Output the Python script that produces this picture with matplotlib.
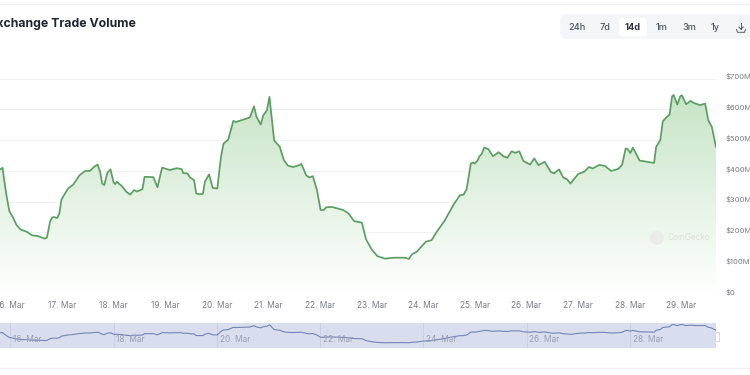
import numpy as np
import matplotlib
matplotlib.use('Agg')
import matplotlib.pyplot as plt
from matplotlib.colors import LinearSegmentedColormap
from matplotlib.patches import Polygon, FancyBboxPatch, Circle, Rectangle
from matplotlib.transforms import ScaledTranslation

plt.rcParams['font.family'] = ['Inter', 'DejaVu Sans']

# day of March, volume in $M
days = [15.80, 15.85, 15.89, 15.93, 15.98, 16.06, 16.12, 16.20, 16.32, 16.42, 16.54, 16.67, 16.71, 16.77, 16.81, 16.85,
        16.91, 16.95, 16.99, 17.06, 17.12, 17.22, 17.34, 17.45, 17.54, 17.62, 17.69, 17.74, 17.78, 17.82, 17.88, 17.94,
        18.00, 18.03, 18.06, 18.16, 18.25, 18.32, 18.40, 18.45, 18.56, 18.60, 18.77, 18.85, 18.94, 19.09, 19.22, 19.32,
        19.35, 19.43, 19.48, 19.56, 19.60, 19.64, 19.73, 19.77, 19.85, 19.92, 20.01, 20.08, 20.13, 20.22, 20.32, 20.37,
        20.51, 20.64, 20.72, 20.77, 20.85, 20.90, 20.97, 21.02, 21.11, 21.22, 21.30, 21.38, 21.48, 21.60, 21.64, 21.73,
        21.79, 21.86, 21.94, 22.01, 22.07, 22.12, 22.23, 22.45, 22.55, 22.66, 22.81, 22.89, 23.00, 23.11, 23.26, 23.42,
        23.65, 23.72, 23.78, 23.87, 24.05, 24.16, 24.26, 24.42, 24.58, 24.71, 24.78, 24.84, 24.92, 24.96, 24.99, 25.05,
        25.08, 25.13, 25.18, 25.26, 25.35, 25.46, 25.55, 25.63, 25.71, 25.78, 25.86, 25.94, 26.07, 26.15, 26.23, 26.35,
        26.47, 26.53, 26.63, 26.71, 26.79, 26.85, 27.00, 27.12, 27.21, 27.28, 27.41, 27.52, 27.64, 27.78, 27.85, 27.92,
        27.96, 28.01, 28.06, 28.19, 28.47, 28.51, 28.59, 28.64, 28.72, 28.77, 28.82, 28.85, 28.92, 28.98, 29.01, 29.09,
        29.18, 29.23, 29.36, 29.46, 29.52, 29.59, 29.67]
volume = [405, 410, 360, 316, 270, 246, 224, 210, 202, 191, 188, 180, 184, 235, 249, 250,
          247, 262, 307, 327, 343, 356, 386, 400, 400, 413, 421, 397, 359, 354, 394, 405,
          363, 357, 365, 351, 332, 323, 338, 333, 341, 381, 380, 347, 411, 403, 409, 406,
          393, 392, 379, 370, 327, 325, 325, 365, 389, 345, 343, 446, 489, 502, 563, 559,
          567, 574, 610, 576, 551, 581, 597, 641, 500, 478, 435, 417, 413, 419, 423, 386,
          379, 383, 338, 273, 273, 282, 283, 273, 262, 237, 232, 178, 145, 123, 115, 118,
          118, 114, 129, 137, 170, 175, 202, 240, 289, 321, 323, 341, 424, 428, 424, 433,
          446, 455, 476, 471, 448, 461, 448, 443, 464, 459, 464, 432, 421, 441, 419, 430,
          397, 392, 405, 379, 372, 359, 390, 398, 413, 408, 420, 416, 400, 407, 420, 473,
          471, 458, 476, 434, 426, 478, 500, 562, 576, 583, 643, 647, 616, 643, 646, 617,
          628, 622, 614, 619, 565, 543, 478]

main_ticks = [16, 17, 18, 19, 20, 21, 22, 23, 24, 25, 26, 27, 28, 29]
main_labels = ['16. Mar', '17. Mar', '18. Mar', '19. Mar', '20. Mar', '21. Mar', '22. Mar',
               '23. Mar', '24. Mar', '25. Mar', '26. Mar', '27. Mar', '28. Mar', '29. Mar']
nav_ticks = [16, 18, 20, 22, 24, 26, 28]
nav_labels = ['16. Mar', '18. Mar', '20. Mar', '22. Mar', '24. Mar', '26. Mar', '28. Mar']
y_ticks = [0, 100, 200, 300, 400, 500, 600, 700]
y_labels = ['$0', '$100M', '$200M', '$300M', '$400M', '$500M', '$600M', '$700M']
ranges = ['24h', '7d', '14d', '1m', '3m', '1y']

W, H = 750, 375
fig = plt.figure(figsize=(7.5, 3.75), dpi=100)

def px_axes(left, top, right, bottom):
    return fig.add_axes([left / W, 1 - bottom / H, (right - left) / W, (bottom - top) / H])

# overlay in pixel coordinates for the page furniture
page = fig.add_axes([0, 0, 1, 1])
page.set_xlim(0, W)
page.set_ylim(H, 0)
page.axis('off')

page.plot([0, W], [4, 4], color='#efefef', lw=1)
page.plot([0, W], [367.7, 367.7], color='#efefef', lw=1)
page.text(135.5, 23.5, 'Exchange Trade Volume', ha='right', va='center', fontsize=8.85, fontweight='bold', color='#1f2530')

page.add_patch(FancyBboxPatch((563, 17), 200, 19, boxstyle='round,pad=0,rounding_size=3', fc='#f3f5f9', ec='#f3f5f9', lw=4))
page.add_patch(FancyBboxPatch((620, 19), 26, 16.5, boxstyle='round,pad=0,rounding_size=3', fc='white', ec='white', lw=1.5))
for label, x in zip(ranges, [577, 605, 633, 661.7, 689, 715]):
    page.text(x, 27.5, label, ha='center', va='center', fontsize=6.6, color='#30363f' if label == '14d' else '#50565f',
              fontweight='bold' if label == '14d' else 'medium')

# download icon
page.plot([741, 741], [22.5, 29], color='#555b66', lw=0.7)
page.plot([738.8, 741, 743.2], [27, 29.2, 27], color='#555b66', lw=0.7)
page.plot([736.5, 737.5, 744.5, 745.5], [29.5, 32.3, 32.3, 29.5], color='#555b66', lw=0.7)

# main chart
ax = px_axes(0, 78.7, 716, 294)
ax.patch.set_alpha(0)
ax.set_xlim(days[0], days[-1])
ax.set_ylim(0, 700)
for s in ax.spines.values():
    s.set_visible(False)
ax.grid(axis='y', color='#f2f2f2', lw=0.8)
ax.set_axisbelow(True)

cmap = LinearSegmentedColormap.from_list('fade', ['#ffffff', '#c2e2c2'])
grad = np.linspace(1, 0, 256).reshape(-1, 1)
img = ax.imshow(grad, cmap=cmap, vmin=0, vmax=1, aspect='auto', zorder=1,
                extent=(days[0], days[-1], 0, 700))
poly = Polygon(list(zip(days, volume)) + [(days[-1], 0), (days[0], 0)], closed=True, transform=ax.transData, fc='none', ec='none')
ax.add_patch(poly)
img.set_clip_path(poly)
ax.plot(days, volume, color='#5b9e62', lw=1.25, solid_joinstyle='round', zorder=3)

ax.set_xticks(main_ticks)
ax.set_xticklabels(main_labels)
ax.yaxis.tick_right()
ax.set_yticks(y_ticks)
ax.set_yticklabels(y_labels)
ax.tick_params(axis='x', length=0, pad=5, labelsize=6, labelcolor='#7c7f85')
ax.tick_params(axis='y', length=0, pad=7, labelsize=5.5, labelcolor='#7c7f85')
shift = ScaledTranslation(0, 2.7 / 100, fig.dpi_scale_trans)
for lab in ax.get_yticklabels():
    lab.set_transform(lab.get_transform() + shift)

# watermark
page.add_patch(Circle((657, 238), 7, fc='#e9ece9', ec='none', zorder=5))
page.text(668, 237, 'CoinGecko', ha='left', va='center', fontsize=5.9, color='#dbe2db', zorder=5)

# navigator
nav = px_axes(0, 323.3, 716, 348.3)
nav.set_facecolor('#d9deef')
nav.set_xlim(days[0], days[-1])
nav.set_ylim(-48, 683)
for s in nav.spines.values():
    s.set_visible(False)
nav.set_yticks([])
nav.set_xticks(nav_ticks)
nav.set_xticklabels([])
nav.tick_params(axis='x', length=0)
nav.grid(axis='x', color='#c6cce3', lw=0.6)
nav.set_axisbelow(True)
nav.plot(days, volume, color='#7484b4', lw=0.8)
for t, lab in zip(nav_ticks, nav_labels):
    nav.annotate(lab, (t, 0), xycoords=('data', 'axes fraction'), xytext=(2, 3.2), textcoords='offset points',
                 fontsize=6, color='#9a9fb0', ha='left', va='bottom')

page.set_zorder(3)
page.add_patch(Rectangle((714.5, 332), 4, 9, fc='white', ec='#c8ccd8', lw=0.5, zorder=6))

fig.savefig('out.png', dpi=100)
